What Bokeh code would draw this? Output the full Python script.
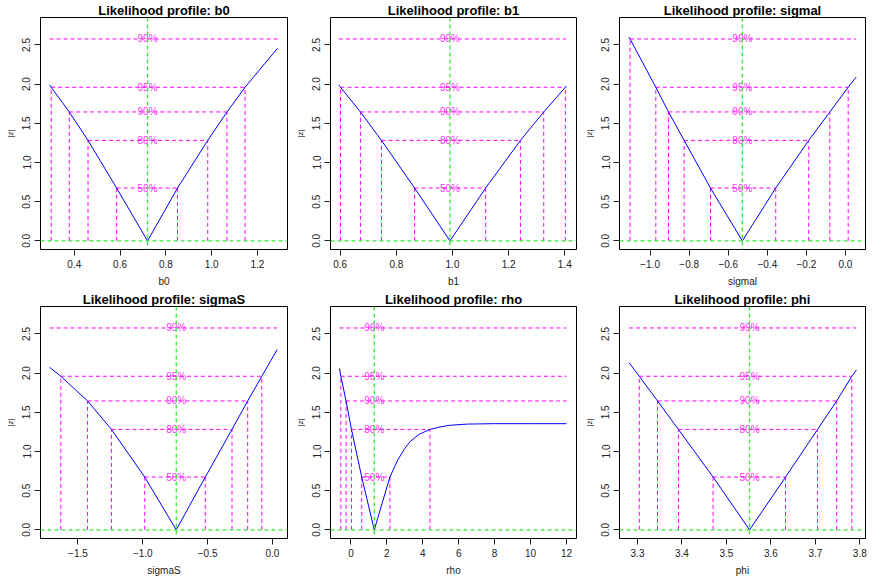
from bokeh.plotting import figure
from bokeh.layouts import column, row
from bokeh.models import Range1d, FixedTicker, Span
from bokeh.embed import file_html
from bokeh.resources import INLINE
from bokeh.core.properties import value

# ---------------- data ----------------
levels = [2.576, 1.960, 1.645, 1.282, 0.674]
level_labels = ["99%", "95%", "90%", "80%", "50%"]

y_ticks = [0.0, 0.5, 1.0, 1.5, 2.0, 2.5]
y_tick_labels = ["0.0", "0.5", "1.0", "1.5", "2.0", "2.5"]

params = ["b0", "b1", "sigmal", "sigmaS", "rho", "phi"]

b0_x = [0.292, 0.299, 0.378, 0.460, 0.585, 0.720, 0.851, 0.983, 1.067, 1.146, 1.288]
b0_z = [1.99, 1.96, 1.645, 1.282, 0.674, 0.0, 0.674, 1.282, 1.645, 1.96, 2.458]
b0_mle = 0.720
b0_lower = [None, 0.299, 0.378, 0.460, 0.585]
b0_upper = [None, 1.146, 1.067, 0.983, 0.851]
b0_ticks = [0.4, 0.6, 0.8, 1.0, 1.2]
b0_tick_labels = ["0.4", "0.6", "0.8", "1.0", "1.2"]

b1_x = [0.595, 0.601, 0.672, 0.747, 0.865, 0.991, 1.118, 1.242, 1.325, 1.402, 1.405]
b1_z = [1.99, 1.96, 1.645, 1.282, 0.674, 0.0, 0.674, 1.282, 1.645, 1.96, 1.975]
b1_mle = 0.991
b1_lower = [None, 0.601, 0.672, 0.747, 0.865]
b1_upper = [None, 1.402, 1.325, 1.242, 1.118]
b1_ticks = [0.6, 0.8, 1.0, 1.2, 1.4]
b1_tick_labels = ["0.6", "0.8", "1.0", "1.2", "1.4"]

sigmal_x = [-1.109, -1.103, -0.971, -0.906, -0.826, -0.691, -0.528, -0.357, -0.188, -0.080, 0.014, 0.055]
sigmal_z = [2.60, 2.576, 1.96, 1.645, 1.282, 0.674, 0.0, 0.674, 1.282, 1.645, 1.96, 2.09]
sigmal_mle = -0.528
sigmal_lower = [-1.103, -0.971, -0.906, -0.826, -0.691]
sigmal_upper = [None, 0.014, -0.080, -0.188, -0.357]
sigmal_ticks = [-1.0, -0.8, -0.6, -0.4, -0.2, 0.0]
sigmal_tick_labels = ["\u22121.0", "\u22120.8", "\u22120.6", "\u22120.4", "\u22120.2", "0.0"]

sigmaS_x = [-1.719, -1.632, -1.426, -1.242, -0.985, -0.742, -0.518, -0.312, -0.191, -0.082, 0.036]
sigmaS_z = [2.075, 1.96, 1.645, 1.282, 0.674, 0.0, 0.674, 1.282, 1.645, 1.96, 2.30]
sigmaS_mle = -0.742
sigmaS_lower = [None, -1.632, -1.426, -1.242, -0.985]
sigmaS_upper = [None, -0.082, -0.191, -0.312, -0.518]
sigmaS_ticks = [-1.5, -1.0, -0.5, 0.0]
sigmaS_tick_labels = ["\u22121.5", "\u22121.0", "\u22120.5", "0.0"]

rho_x = [-0.635, -0.56, -0.27, 0.03, 0.60, 1.30, 1.75, 2.17, 2.6, 3.0, 3.31, 3.8, 4.40,
         5.0, 5.53, 6.5, 8.0, 10.0, 12.0]
rho_z = [2.06, 1.96, 1.645, 1.282, 0.674, 0.0, 0.35, 0.674, 0.89, 1.04, 1.13, 1.22, 1.282,
         1.315, 1.335, 1.35, 1.355, 1.355, 1.355]
rho_mle = 1.30
rho_lower = [None, -0.56, -0.27, 0.03, 0.60]
rho_upper = [None, None, None, 4.40, 2.17]
rho_ticks = [0, 2, 4, 6, 8, 10, 12]
rho_tick_labels = ["0", "2", "4", "6", "8", "10", "12"]

phi_x = [3.281, 3.304, 3.345, 3.392, 3.470, 3.552, 3.633, 3.705, 3.748, 3.782, 3.7925]
phi_z = [2.134, 1.96, 1.645, 1.282, 0.674, 0.0, 0.674, 1.282, 1.645, 1.96, 2.04]
phi_mle = 3.552
phi_lower = [None, 3.304, 3.345, 3.392, 3.470]
phi_upper = [None, 3.782, 3.748, 3.705, 3.633]
phi_ticks = [3.3, 3.4, 3.5, 3.6, 3.7, 3.8]
phi_tick_labels = ["3.3", "3.4", "3.5", "3.6", "3.7", "3.8"]

# ---------------- layout / style ----------------
x_ranges = {
    "b0": (0.2524, 1.3314), "b1": (0.5654, 1.4417), "sigmal": (-1.157, 0.1026),
    "sigmaS": (-1.789, 0.116), "rho": (-1.137, 12.557), "phi": (3.2595, 3.8128),
}
y_range = (-0.11, 2.85)

FONT = "Liberation Sans"
MAGENTA = "#FF00FF"
GREEN = "#33EE33"
BLUE = "#0000FF"

col_left = [40, 40, 39]
col_frame = [247, 246, 246]
col_right = [3, 4, 9]

panel_data = {
    "b0": (b0_x, b0_z, b0_mle, b0_lower, b0_upper, b0_ticks, b0_tick_labels),
    "b1": (b1_x, b1_z, b1_mle, b1_lower, b1_upper, b1_ticks, b1_tick_labels),
    "sigmal": (sigmal_x, sigmal_z, sigmal_mle, sigmal_lower, sigmal_upper, sigmal_ticks, sigmal_tick_labels),
    "sigmaS": (sigmaS_x, sigmaS_z, sigmaS_mle, sigmaS_lower, sigmaS_upper, sigmaS_ticks, sigmaS_tick_labels),
    "rho": (rho_x, rho_z, rho_mle, rho_lower, rho_upper, rho_ticks, rho_tick_labels),
    "phi": (phi_x, phi_z, phi_mle, phi_lower, phi_upper, phi_ticks, phi_tick_labels),
}


def make_panel(name, col):
    xs, zs, mle, lower, upper, ticks, tick_labels = panel_data[name]
    w = col_left[col] + col_frame[col] + col_right[col]
    p = figure(width=w, height=289, output_backend="svg", toolbar_location=None,
               x_range=Range1d(*x_ranges[name]), y_range=Range1d(*y_range),
               min_border_left=col_left[col], min_border_right=col_right[col],
               min_border_top=15, min_border_bottom=40)
    p.background_fill_color = "white"
    p.border_fill_color = "white"
    p.outline_line_color = "black"
    p.outline_line_width = 1
    p.xgrid.visible = False
    p.ygrid.visible = False

    p.title.text = "Likelihood profile: " + name
    p.title.align = "center"
    p.title.text_font = FONT
    p.title.text_font_size = "13px"
    p.title.text_font_style = "bold"
    p.title.text_color = "black"
    p.title.standoff = 0
    p.title.offset = 0

    p.xaxis.ticker = FixedTicker(ticks=ticks)
    p.xaxis.major_label_overrides = dict(zip(ticks, tick_labels))
    p.yaxis.ticker = FixedTicker(ticks=y_ticks)
    p.yaxis.major_label_overrides = dict(zip(y_ticks, y_tick_labels))
    p.xaxis.axis_label = name
    p.yaxis.axis_label = "|z|"
    p.yaxis.major_label_orientation = "vertical"
    for ax in (p.xaxis[0], p.yaxis[0]):
        ax.axis_line_color = None
        ax.major_tick_in = 0
        ax.major_tick_out = 6
        ax.major_tick_line_color = "#222222"
        ax.minor_tick_line_color = None
        ax.major_label_text_font = FONT
        ax.major_label_text_font_size = "10px"
        ax.major_label_text_color = "#222222"
        ax.major_label_standoff = 4
        ax.axis_label_text_font = FONT
        ax.axis_label_text_font_style = "normal"
        ax.axis_label_text_color = "#222222"
        ax.axis_label_standoff = 5
    p.xaxis.axis_label_text_font_size = "10px"
    p.yaxis.axis_label_text_font_size = "8px"

    xmin, xmax = min(xs), max(xs)
    hx0, hx1, hy = [], [], []
    vx, vy = [], []
    for lev, lo, hi in zip(levels, lower, upper):
        hx0.append(lo if lo is not None else xmin)
        hx1.append(hi if hi is not None else xmax)
        hy.append(lev)
        for b in (lo, hi):
            if b is not None:
                vx.append(b)
                vy.append(lev)

    p.segment(x0=hx0, y0=hy, x1=hx1, y1=hy, line_color=MAGENTA, line_width=1, line_dash="4 3")
    p.segment(x0=vx, y0=[0.0] * len(vx), x1=vx, y1=vy, line_color=MAGENTA, line_width=1, line_dash="4 3")

    p.add_layout(Span(location=0.0, dimension="width", line_color=GREEN, line_width=1.3, line_dash="4 3"))
    p.add_layout(Span(location=mle, dimension="height", line_color=GREEN, line_width=1.3, line_dash="4 3"))

    p.line(xs, zs, line_color=BLUE, line_width=1)

    p.text(x=[mle] * len(levels), y=levels, text=level_labels, text_align="center",
           text_baseline="middle", text_color=MAGENTA, text_alpha=0.85,
           text_font=value(FONT), text_font_size="10px")
    return p


panels = [make_panel(n, i % 3) for i, n in enumerate(params)]
layout = column(row(*panels[:3]), row(*panels[3:]))

open("out.html", "w").write(file_html(layout, INLINE))
